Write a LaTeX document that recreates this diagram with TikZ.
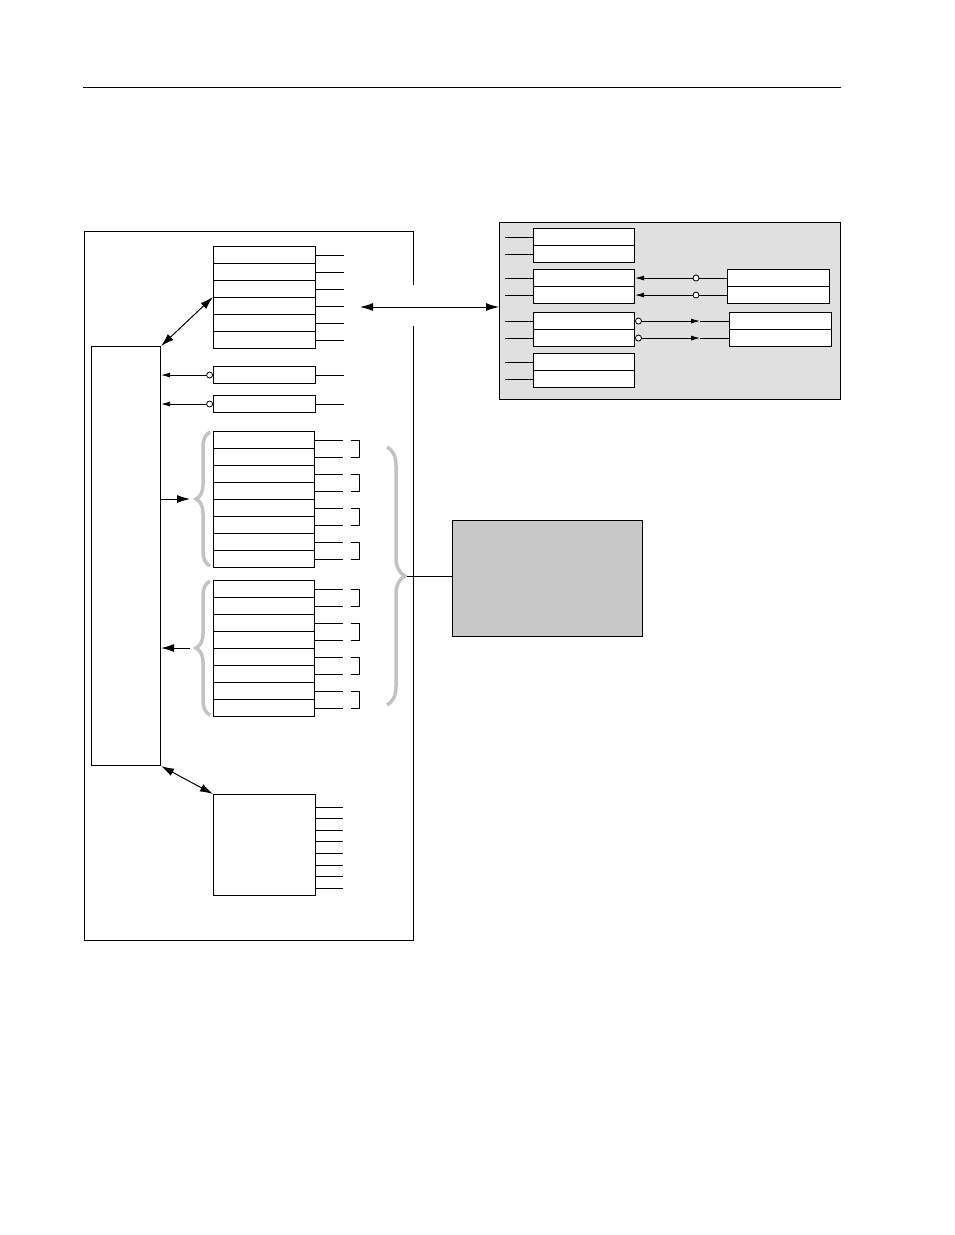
\documentclass[tikz,border=0pt]{standalone}
\usepackage{tikz}
\usetikzlibrary{calc, arrows.meta, decorations.pathreplacing}
\definecolor{panelgray}{RGB}{224,224,224}
\definecolor{boxgray}{RGB}{200,200,200}
\definecolor{bracegray}{RGB}{195,195,195}

\begin{document}
\begin{tikzpicture}[x=1pt, y=-1pt, line width=1pt,
	regbox/.style={draw, line width=1.1pt, fill=white},
	pin/.style={line width=1pt},
	tip/.style={-{Latex[length=13pt, width=8pt]}},
	dtip/.style={{Latex[length=13pt, width=8pt]}-{Latex[length=13pt, width=8pt]}},
	stip/.style={-{Latex[length=9pt, width=5pt]}},
	bub/.style={circle, draw, fill=white, inner sep=0pt, minimum size=6pt, line width=0.8pt},
	graybrace/.style={draw=bracegray, line width=3.5pt, decorate, decoration={brace, amplitude=14pt, aspect=0.5}}]
	\useasboundingbox (0,0) rectangle (954,1235);

	\draw[line width=0.6pt] (83,87) -- (841,87);

	% outer board with gap on the right
	\draw[line width=0.8pt] (413,285) -- (413,231) -- (84,231) -- (84,940) -- (413,940) -- (413,326);

	% processor
	\node[regbox, minimum width=69pt, minimum height=419pt, inner sep=0pt, anchor=north west] (cpu) at (91,346) {};

	% register file
	\foreach \i in {0,...,5}{
		\node[regbox, minimum width=102pt, minimum height=17pt, inner sep=0pt, anchor=north west] (reg\i) at (213,246+17*\i) {};
		\draw[pin] (reg\i.east) -- ++(28,0);
	}
	\draw[dtip] (cpu.north east) -- (reg3.north west);

	% status registers
	\foreach \i/\y in {0/366,1/395}{
		\node[regbox, minimum width=102pt, minimum height=17pt, inner sep=0pt, anchor=north west] (st\i) at (213,\y) {};
		\draw[pin] (st\i.east) -- ++(28,0);
		\node[bub, anchor=east] (sb\i) at (st\i.west) {};
		\draw[stip, line width=0.8pt] (sb\i.west) -- (sb\i.west -| cpu.east);
	}

	% output and input ports
	\foreach \g/\y in {a/431,b/580}{
		\foreach \i in {0,...,7}{
			\node[regbox, minimum width=101pt, minimum height=17pt, inner sep=0pt, anchor=north west] (\g\i) at (213,\y+17*\i) {};
			\draw[pin] (\g\i.east) -- ++(28,0);
		}
		\foreach \k in {0,2,4,6}{
			\draw[line width=0.8pt] ($(\g\k.east)+(36,0)$) -- ++(8,0) |- ($(\g\k.east)+(36,17)$);
		}
		\draw[graybrace] (210,\y+135) -- (210,\y+1) coordinate[midway, xshift=-20pt] (br\g);
	}
	\draw[tip] (cpu.east |- bra) -- (bra);
	\draw[tip] (brb) -- (cpu.east |- brb);

	% big brace and memory box
	\draw[graybrace, decoration={brace, amplitude=18pt}] (387,447) -- (387,705) coordinate[midway, xshift=20pt] (bigtip);
	\node[draw, line width=0.8pt, fill=boxgray, minimum width=190pt, minimum height=116pt, anchor=north west] (mem) at (452,520) {};
	\draw[line width=0.8pt] (bigtip) -- (mem.west |- bigtip);

	% timer block
	\node[regbox, minimum width=102pt, minimum height=101pt, anchor=north west] (tmr) at (213,794) {};
	\foreach \i in {0,...,7}{
		\draw[pin] (315,807+11.6*\i) -- ++(28,0);
	}
	\draw[dtip] (cpu.south east) -- (tmr.north west);

	% peripheral panel
	\node[draw, line width=1.1pt, fill=panelgray, minimum width=341pt, minimum height=177pt, anchor=north west] (panel) at (499,222) {};
	\draw[dtip] (360,307) -- (panel.west |- 0,307);
	\foreach \j/\y in {0/228,1/269,2/312,3/353}{
		\foreach \i in {0,1}{
			\node[regbox, minimum width=101pt, minimum height=17pt, inner sep=0pt, anchor=north west] (p\j\i) at (533,\y+17*\i) {};
			\draw[pin] (p\j\i.west) -- ++(-28,0);
		}
	}
	\foreach \i in {0,1}{
		\node[regbox, minimum width=102pt, minimum height=17pt, inner sep=0pt, anchor=north west] (q\i) at (727,269+17*\i) {};
		\node[bub] (qb\i) at (q\i.west -| 696,0) {};
		\draw[line width=0.8pt] (q\i.west) -- (qb\i);
		\draw[stip, line width=0.8pt] (qb\i) -- (qb\i -| p1\i.east);
		\node[regbox, minimum width=102pt, minimum height=17pt, inner sep=0pt, anchor=north west] (r\i) at (729,312+17*\i) {};
		\node[bub, anchor=west] (rb\i) at (p2\i.east) {};
		\coordinate (rt\i) at (rb\i -| 700,0);
		\draw[stip, line width=0.8pt] (rb\i) -- (rt\i);
		\draw[line width=1pt] (rt\i) -- (r\i.west);
	}
\end{tikzpicture}
\end{document}
